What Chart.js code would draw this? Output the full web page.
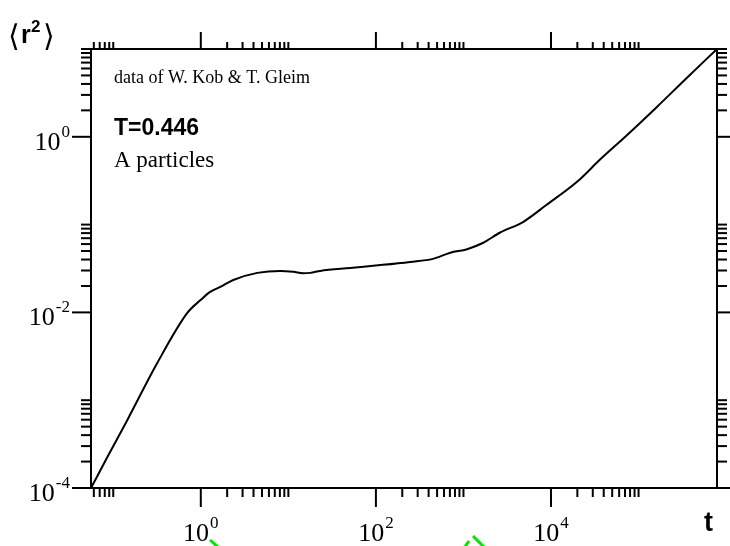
<!DOCTYPE html>
<html>
<head>
<meta charset="utf-8">
<script src="https://cdn.jsdelivr.net/npm/chart.js@4.4.0/dist/chart.umd.min.js"></script>
<style>
html, body { margin: 0; padding: 0; background: #fff; }
#wrap { width: 730px; height: 546px; }
</style>
</head>
<body>
<div id="wrap"><canvas id="c" width="730" height="546"></canvas></div>
<script>
// mean squared displacement <r^2>(t), A particles, T=0.446
const times = [0.0557, 0.0857, 0.145, 0.318, 0.701, 1.0, 1.28, 1.67, 2.35, 4.42, 8.09, 11.4, 14.8, 17.8, 23.1,
  50.9, 120, 245, 447, 708, 1100, 1660, 2630, 4790, 8910, 20000, 36300, 74100, 162000, 355000, 787000];
const msd = [1.0e-4, 2.25e-4, 5.96e-4, 2.65e-3, 9.86e-3, 0.0139, 0.0171, 0.0195, 0.0234, 0.0282, 0.0297, 0.0290, 0.0279, 0.0282, 0.0297,
  0.0321, 0.0348, 0.0376, 0.0407, 0.0479, 0.0525, 0.0617, 0.0813, 0.107, 0.168, 0.309, 0.550, 1.05, 2.19, 4.68, 10.0];

// axis ranges and ticks
const xMin = 0.0557, xMax = 787000;
const yMin = 1e-4, yMax = 10;
const xMajor = [1, 100, 10000];
const xMajorExp = ['0', '2', '4'];
const yMajor = [1e-4, 1e-2, 1];
const yMajorExp = ['-4', '-2', '0'];
const xMinorDecades = [0.01, 1, 100, 10000];
const yMinorDecades = [1e-4, 1e-2, 1];
const minorSteps = [2, 3, 4, 5, 6, 7, 8, 9, 10];

const SERIF = '"Liberation Serif", "Times New Roman", serif';
const SANS = '"Liberation Sans", Arial, sans-serif';

function line(ctx, x1, y1, x2, y2) {
  ctx.beginPath();
  ctx.moveTo(x1, y1);
  ctx.lineTo(x2, y2);
  ctx.stroke();
}

// "10" with a superscript exponent, anchored at right edge or centre
function powLabel(ctx, x, y, exp, align) {
  ctx.font = '26px ' + SERIF;
  const wb = ctx.measureText('10').width;
  ctx.font = '17px ' + SERIF;
  const we = ctx.measureText(exp).width;
  let x0 = align === 'right' ? x - wb - we - 1 : x - (wb + we + 1) / 2;
  ctx.textAlign = 'left';
  ctx.textBaseline = 'alphabetic';
  ctx.font = '26px ' + SERIF;
  ctx.fillText('10', x0, y);
  ctx.font = '17px ' + SERIF;
  ctx.fillText(exp, x0 + wb + 1, y - 13);
}

const axesPlugin = {
  id: 'axesPlugin',
  afterDraw(chart) {
    const ctx = chart.ctx;
    const a = chart.chartArea;
    const xs = chart.scales.x, ys = chart.scales.y;
    ctx.save();
    ctx.strokeStyle = '#000';
    ctx.fillStyle = '#000';
    ctx.lineWidth = 2;
    ctx.strokeRect(a.left, a.top, a.right - a.left, a.bottom - a.top);

    // x ticks, bottom and top
    xMajor.forEach((v, i) => {
      const px = xs.getPixelForValue(v);
      line(ctx, px, a.bottom, px, a.bottom + 19);
      line(ctx, px, a.top, px, a.top - 17);
      powLabel(ctx, px, 541, xMajorExp[i], 'center');
    });
    xMinorDecades.forEach(d => minorSteps.forEach(m => {
      const v = d * m;
      if (v < xMin || v > xMax) return;
      const px = xs.getPixelForValue(v);
      line(ctx, px, a.bottom, px, a.bottom + 9);
      line(ctx, px, a.top, px, a.top - 7);
    }));

    // y ticks, left and right
    yMajor.forEach((v, i) => {
      const py = ys.getPixelForValue(v);
      line(ctx, a.left, py, a.left - 19, py);
      line(ctx, a.right, py, a.right + 18, py);
      powLabel(ctx, 70, py + 13, yMajorExp[i], 'right');
    });
    yMinorDecades.forEach(d => minorSteps.forEach(m => {
      const v = d * m;
      if (v < yMin || v > yMax) return;
      const py = ys.getPixelForValue(v);
      line(ctx, a.left, py, a.left - 10, py);
      line(ctx, a.right, py, a.right + 10, py);
    }));

    // axis titles
    ctx.textAlign = 'left';
    ctx.font = '30px "DejaVu Sans", sans-serif';
    ctx.fillText('\u27E8', 8, 46);
    ctx.font = 'bold 25px ' + SANS;
    ctx.fillText('r', 21, 43);
    ctx.font = 'bold 17px ' + SANS;
    ctx.fillText('2', 31, 32);
    ctx.font = '30px "DejaVu Sans", sans-serif';
    ctx.fillText('\u27E9', 43, 46);
    ctx.font = 'bold 27px ' + SANS;
    ctx.fillText('t', 704, 531);

    // annotations inside the frame
    ctx.font = '18px ' + SERIF;
    ctx.fillText('data of W. Kob & T. Gleim', 114, 83);
    ctx.font = 'bold 23px ' + SANS;
    ctx.fillText('T=0.446', 114, 135);
    ctx.font = '23px ' + SERIF;
    ctx.fillText('A particles', 114, 167);

    // stray green strokes at the bottom edge of the figure
    ctx.strokeStyle = '#00e600';
    ctx.lineWidth = 3;
    line(ctx, 210, 540, 219, 548);
    line(ctx, 464, 548, 469, 541);
    line(ctx, 473, 536, 484, 547);
    ctx.restore();
  }
};

new Chart(document.getElementById('c'), {
  type: 'line',
  data: {
    datasets: [{
      data: times.map((t, i) => ({ x: t, y: msd[i] })),
      borderColor: '#000',
      borderWidth: 2,
      pointRadius: 0,
      cubicInterpolationMode: 'monotone',
      fill: false
    }]
  },
  options: {
    responsive: false,
    animation: false,
    layout: { padding: { left: 91, top: 49, right: 13, bottom: 58 } },
    plugins: { legend: { display: false }, tooltip: { enabled: false } },
    scales: {
      x: { type: 'logarithmic', min: xMin, max: xMax, display: false },
      y: { type: 'logarithmic', min: yMin, max: yMax, display: false }
    }
  },
  plugins: [axesPlugin]
});
</script>
</body>
</html>
